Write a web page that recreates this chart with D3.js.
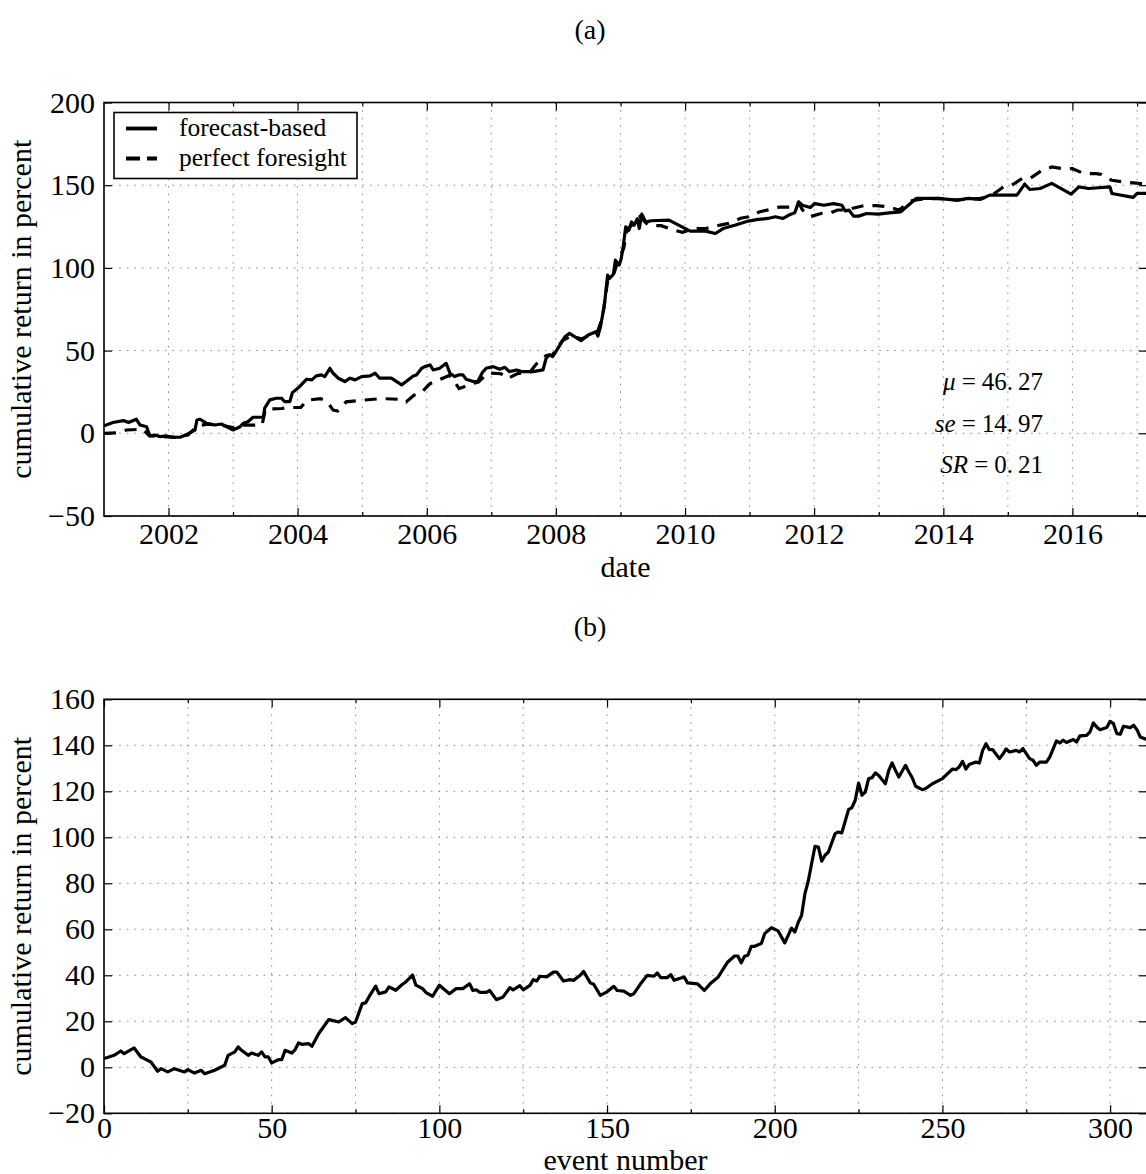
<!DOCTYPE html>
<html>
<head>
<meta charset="utf-8">
<script src="https://cdn.jsdelivr.net/npm/d3@7"></script>
<style>
  html, body { margin: 0; padding: 0; background: #fff; overflow: hidden; }
  svg { display: block; }
  text { fill: #000; }
</style>
</head>
<body>
<script>
// ---------- panel (a): cumulative return over calendar time ----------
const forecastTime = [
  2001.00, 2001.14, 2001.30, 2001.38, 2001.50, 2001.56, 2001.66, 2001.71, 2001.79, 2001.87,
  2001.97, 2002.07, 2002.18, 2002.30, 2002.41, 2002.44, 2002.49, 2002.59, 2002.72, 2002.82,
  2002.90, 2003.00, 2003.11, 2003.16, 2003.23, 2003.31, 2003.47, 2003.49, 2003.57, 2003.67,
  2003.75, 2003.80, 2003.88, 2003.92, 2004.03, 2004.14, 2004.22, 2004.29, 2004.37, 2004.42,
  2004.50, 2004.55, 2004.63, 2004.73, 2004.81, 2004.89, 2004.99, 2005.12, 2005.20, 2005.27,
  2005.45, 2005.61, 2005.68, 2005.79, 2005.84, 2005.92, 2005.97, 2006.05, 2006.10, 2006.20,
  2006.30, 2006.36, 2006.43, 2006.49, 2006.56, 2006.61, 2006.72, 2006.79, 2006.86, 2006.92,
  2007.03, 2007.13, 2007.21, 2007.28, 2007.39, 2007.47, 2007.65, 2007.80, 2007.85, 2007.90,
  2007.95, 2008.00, 2008.08, 2008.14, 2008.21, 2008.29, 2008.39, 2008.50, 2008.62, 2008.65,
  2008.69, 2008.75, 2008.80, 2008.83, 2008.89, 2008.92, 2008.98, 2009.01, 2009.04, 2009.08,
  2009.13, 2009.17, 2009.21, 2009.26, 2009.29, 2009.33, 2009.39, 2009.48, 2009.75, 2010.08,
  2010.32, 2010.47, 2010.59, 2010.77, 2010.98, 2011.13, 2011.28, 2011.40, 2011.52, 2011.63,
  2011.70, 2011.76, 2011.82, 2011.94, 2012.01, 2012.15, 2012.30, 2012.43, 2012.48, 2012.54,
  2012.61, 2012.69, 2012.81, 2012.99, 2013.16, 2013.34, 2013.58, 2013.91, 2014.21, 2014.39,
  2014.57, 2014.72, 2015.14, 2015.26, 2015.34, 2015.50, 2015.68, 2015.98, 2016.10, 2016.25,
  2016.58, 2016.61, 2016.94, 2017.00, 2017.16
];
const forecastReturn = [
  4.5, 6.5, 7.7, 6.5, 8.5, 5.0, 4.0, -1.6, -1.0, -2.0,
  -1.6, -2.4, -2.4, -0.4, 2.0, 8.0, 8.5, 6.0, 5.0, 5.6,
  4.0, 2.0, 4.0, 6.0, 7.0, 9.7, 9.7, 15.2, 20.2, 21.2,
  21.2, 19.2, 19.2, 24.6, 28.2, 32.7, 32.3, 34.7, 35.3, 34.3,
  39.3, 36.3, 33.3, 31.3, 33.3, 32.3, 34.3, 34.7, 36.3, 33.3,
  33.3, 29.3, 31.3, 34.7, 35.3, 39.3, 40.3, 41.3, 38.3, 39.3,
  42.3, 36.3, 34.3, 35.3, 35.3, 32.7, 31.3, 31.3, 36.7, 39.3,
  40.3, 38.7, 39.9, 37.3, 38.3, 37.3, 37.3, 38.3, 45.4, 47.4,
  46.4, 49.4, 54.4, 58.4, 60.4, 58.4, 56.0, 59.4, 61.4, 58.8,
  64.4, 77.5, 95.6, 93.6, 96.2, 104.7, 101.7, 105.7, 112.7, 124.8,
  122.8, 127.8, 125.8, 129.8, 123.8, 132.5, 127.8, 128.5, 128.9, 122.2,
  122.2, 120.8, 123.8, 125.8, 128.3, 129.3, 129.9, 130.9, 129.9, 132.3,
  133.3, 139.9, 137.9, 136.5, 138.9, 137.9, 138.9, 137.9, 134.5, 134.9,
  131.3, 131.3, 132.9, 132.5, 133.3, 133.9, 142.0, 142.0, 141.0, 142.0,
  141.4, 144.0, 144.0, 150.7, 147.4, 148.0, 151.1, 144.6, 149.0, 148.0,
  149.0, 145.0, 142.6, 145.0, 145.0
];
const foresightTime = [
  2001.00, 2001.20, 2001.35, 2001.60, 2001.70, 2001.90, 2002.10, 2002.30, 2002.45, 2002.60,
  2002.80, 2003.00, 2003.15, 2003.45, 2003.50, 2003.75, 2003.85, 2004.05, 2004.15, 2004.35,
  2004.45, 2004.55, 2004.62, 2004.75, 2005.00, 2005.30, 2005.60, 2005.68, 2005.80, 2005.90,
  2006.05, 2006.35, 2006.40, 2006.50, 2006.70, 2006.80, 2006.95, 2007.15, 2007.25, 2007.40,
  2007.60, 2007.70, 2007.85, 2007.95, 2008.10, 2008.25, 2008.40, 2008.55, 2008.65, 2008.72,
  2008.80, 2008.90, 2008.95, 2009.05, 2009.10, 2009.20, 2009.30, 2009.40, 2009.45, 2009.63,
  2009.81, 2009.96, 2010.14, 2010.32, 2010.56, 2010.68, 2010.86, 2011.00, 2011.16, 2011.34,
  2011.46, 2011.64, 2011.76, 2011.82, 2011.94, 2012.12, 2012.24, 2012.36, 2012.48, 2012.78,
  2012.96, 2013.13, 2013.31, 2013.52, 2013.67, 2013.91, 2014.21, 2014.33, 2014.57, 2014.72,
  2014.93, 2015.05, 2015.23, 2015.35, 2015.53, 2015.68, 2015.86, 2016.00, 2016.18, 2016.37,
  2016.45, 2016.55, 2016.61, 2016.84, 2016.99, 2017.16
];
const foresightReturn = [
  0.0, 0.3, 2.0, 2.5, -1.5, -2.0, -2.5, -1.0, 4.5, 5.5,
  5.0, 3.5, 5.0, 5.0, 14.5, 15.0, 15.5, 15.7, 20.0, 21.0,
  19.5, 14.0, 13.5, 19.0, 20.0, 21.0, 20.5, 19.0, 23.0, 24.0,
  30.0, 35.0, 33.0, 27.0, 30.0, 31.0, 36.5, 36.0, 33.0, 36.0,
  37.0, 42.0, 47.0, 47.5, 56.0, 59.0, 57.0, 60.0, 62.0, 70.0,
  92.0, 97.0, 103.0, 112.0, 123.0, 127.0, 131.0, 127.0, 125.5, 125.5,
  123.0, 121.5, 123.8, 123.8, 126.0, 127.0, 130.0, 131.0, 134.0, 135.5,
  136.8, 136.8, 139.5, 135.0, 131.0, 133.0, 133.0, 135.0, 135.0, 137.7,
  137.7, 137.0, 135.0, 140.8, 141.5, 142.0, 141.0, 141.5, 142.0, 143.0,
  148.9, 149.7, 154.3, 154.3, 159.0, 161.0, 160.0, 160.0, 157.0, 157.0,
  156.5, 154.0, 153.0, 151.7, 151.3, 150.5
];
const yearTicks = [2002, 2004, 2006, 2008, 2010, 2012, 2014, 2016];
const yearMinorTicks = [2003, 2005, 2007, 2009, 2011, 2013, 2015, 2017];
const returnTicksA = [-50, 0, 50, 100, 150, 200];
const seriesLabels = ["forecast-based", "perfect foresight"];
const statLines = [
  { sym: "μ", val: "46.27" },
  { sym: "se", val: "14.97" },
  { sym: "SR", val: "0.21" }
];

// ---------- panel (b): cumulative return over event number ----------
const eventNumber = [
  0, 3, 5, 6, 9, 11, 12, 14, 16, 17, 19, 21, 24, 25, 27, 29, 30, 33, 36, 37,
  39, 40, 41, 43, 44, 46, 47, 48, 49, 50, 52, 53, 54, 56, 57, 58, 59, 61, 62, 64,
  67, 68, 70, 72, 74, 75, 77, 78, 79, 81, 82, 84, 85, 87, 89, 90, 92, 93, 95, 96,
  98, 100, 103, 105, 107, 109, 110, 111, 112, 114, 115, 117, 119, 121, 122, 124, 125, 127, 128, 129,
  130, 132, 134, 135, 137, 139, 140, 142, 143, 145, 146, 148, 150, 152, 153, 155, 157, 158, 160, 162,
  164, 165, 166, 168, 169, 170, 173, 174, 177, 179, 181, 183, 186, 188, 189, 190, 191, 192, 193, 194,
  196, 197, 199, 201, 203, 205, 206, 207, 208, 209, 210, 212, 213, 214, 215, 216, 218, 219, 220, 222,
  223, 224, 225, 226, 227, 228, 229, 230, 231, 233, 234, 235, 236, 237, 239, 240, 241, 242, 244, 245,
  247, 250, 251, 253, 254, 255, 256, 257, 258, 260, 261, 262, 263, 264, 265, 267, 268, 269, 270, 272,
  273, 274, 276, 277, 278, 279, 281, 282, 284, 285, 286, 287, 289, 290, 291, 293, 294, 295, 296, 297,
  299, 300, 301, 302, 303, 304, 306, 307, 308, 309, 311
];
const eventReturn = [
  3.8, 5.2, 7.1, 5.9, 8.4, 4.5, 3.8, 2.3, -1.7, -0.6, -2.0, -0.6, -2.0, -1.0, -2.5, -1.3, -2.8, -1.3, 0.9, 5.2,
  6.7, 8.9, 7.4, 5.2, 6.2, 5.2, 6.7, 4.5, 4.5, 1.9, 3.3, 3.3, 7.4, 6.2, 7.7, 10.6, 10.0, 10.3, 9.1, 14.6,
  20.7, 20.4, 19.7, 21.6, 19.0, 19.7, 27.7, 28.0, 30.6, 35.3, 32.0, 32.8, 35.0, 33.5, 36.1, 37.1, 40.1, 35.7, 34.2, 32.5,
  30.9, 35.7, 32.0, 34.2, 34.2, 36.3, 33.4, 33.7, 32.6, 32.6, 33.4, 29.4, 30.6, 34.6, 33.7, 35.5, 33.7, 35.6, 38.1, 37.5,
  39.6, 39.3, 41.4, 41.4, 37.5, 38.1, 37.8, 40.0, 41.7, 36.7, 36.1, 31.3, 32.8, 35.2, 33.4, 33.1, 31.3, 32.0, 36.3, 40.0,
  39.6, 41.0, 39.0, 39.0, 40.3, 37.8, 39.3, 36.7, 36.3, 33.4, 36.7, 39.0, 45.8, 48.4, 48.4, 45.4, 48.3, 48.7, 52.6, 52.6,
  53.8, 58.1, 60.7, 59.3, 54.1, 60.5, 58.8, 63.0, 66.0, 75.5, 81.0, 96.1, 95.8, 89.6, 92.2, 93.6, 101.6, 102.3, 101.9, 112.0,
  112.9, 116.1, 123.6, 118.3, 119.7, 125.5, 125.9, 128.0, 126.9, 123.3, 129.1, 132.3, 129.1, 126.2, 131.3, 128.4, 125.9, 122.2, 120.7, 121.2,
  123.3, 125.5, 126.9, 129.7, 129.4, 130.6, 133.0, 129.7, 131.7, 132.7, 132.3, 137.8, 140.7, 138.1, 138.1, 134.2, 136.1, 138.4, 137.1, 137.8,
  137.1, 138.6, 134.2, 133.5, 131.3, 132.7, 132.7, 134.9, 141.9, 141.0, 142.2, 141.2, 142.5, 141.4, 144.1, 144.3, 145.8, 149.7, 148.0, 146.8,
  147.7, 150.4, 149.4, 145.1, 144.8, 148.3, 147.7, 148.7, 146.8, 143.6, 142.5
];
const eventTicks = [0, 50, 100, 150, 200, 250, 300];
const eventMinorTicks = [25, 75, 125, 175, 225, 275];
const returnTicksB = [-20, 0, 20, 40, 60, 80, 100, 120, 140, 160];

// ---------- drawing ----------
const FONT = '"Liberation Serif", "Times New Roman", serif';
const LINE_W = 3.2;
const DASH = "12,9";
const W = 1180, H = 1174;
const svg = d3.select("body").append("svg")
  .attr("width", W).attr("height", H)
  .style("font-family", FONT);

function decYear(y) {
  const yr = Math.floor(y);
  const a = new Date(yr, 0, 1), b = new Date(yr + 1, 0, 1);
  return new Date(a.getTime() + (y - yr) * (b - a));
}
const fmtMinus = v => (v < 0 ? "\u2212" + Math.abs(v) : String(v));

function drawGrid(g, box, x, y, opt) {
  const grid = g.append("g").attr("stroke", "#8c8c8c").attr("stroke-width", 1)
    .attr("stroke-dasharray", "1.6,6");
  opt.xGrid.forEach(v => grid.append("line")
    .attr("x1", x(v)).attr("x2", x(v)).attr("y1", box.top).attr("y2", box.bottom));
  opt.yTicks.forEach(v => grid.append("line")
    .attr("y1", y(v)).attr("y2", y(v)).attr("x1", box.left).attr("x2", box.right));
}

function ticksAndFrame(g, box, x, y, opt) {
  const bottom = d3.axisBottom(x).tickValues(opt.xTicks).tickSize(-8).tickPadding(opt.xPad)
    .tickFormat(opt.xFormat);
  const bottomMinor = d3.axisBottom(x).tickValues(opt.xMinor).tickSize(-4).tickFormat("");
  const top = d3.axisTop(x).tickValues(opt.xTicks).tickSize(-8).tickFormat("");
  const topMinor = d3.axisTop(x).tickValues(opt.xMinor).tickSize(-4).tickFormat("");
  const left = d3.axisLeft(y).tickValues(opt.yTicks).tickSize(-8).tickPadding(9)
    .tickFormat(fmtMinus);
  const right = d3.axisRight(y).tickValues(opt.yTicks).tickSize(-8).tickFormat("");

  const put = (axis, tx, ty) => {
    const a = g.append("g").attr("transform", `translate(${tx},${ty})`).call(axis);
    a.select(".domain").remove();
    a.selectAll(".tick line").attr("stroke", "#000").attr("stroke-width", 1.2);
    a.selectAll("text").style("font-family", FONT).style("font-size", "30px").attr("fill", "#000");
    return a;
  };
  put(bottom, 0, box.bottom);
  put(bottomMinor, 0, box.bottom);
  put(top, 0, box.top);
  put(topMinor, 0, box.top);
  put(left, box.left, 0);
  put(right, box.right, 0);

  g.append("rect")
    .attr("x", box.left).attr("y", box.top)
    .attr("width", box.right - box.left).attr("height", box.bottom - box.top)
    .attr("fill", "none").attr("stroke", "#000").attr("stroke-width", 1.6);
}

function labels(g, box, title, titleY, xLabel, xLabelY, yLabel) {
  g.append("text").attr("x", 590).attr("y", titleY).attr("text-anchor", "middle")
    .style("font-size", "28px").text(title);
  g.append("text").attr("x", (box.left + box.right) / 2).attr("y", xLabelY)
    .attr("text-anchor", "middle").style("font-size", "30px").text(xLabel);
  g.append("text")
    .attr("transform", `translate(31,${(box.top + box.bottom) / 2}) rotate(-90)`)
    .attr("text-anchor", "middle").style("font-size", "30px").text(yLabel);
}

// ----- panel (a) -----
const boxA = { left: 104, right: 1147, top: 102.5, bottom: 516 };
const xA = d3.scaleTime()
  .domain([new Date(2001, 0, 1), new Date(2017, 1, 26)])
  .range([boxA.left, boxA.right]);
const yA = d3.scaleLinear().domain([-50, 200]).range([boxA.bottom, boxA.top]);
const gA = svg.append("g");

const yearDates = yearTicks.map(y => new Date(y, 0, 1));
const yearMinorDates = yearMinorTicks.map(y => new Date(y, 0, 1));
drawGrid(gA, boxA, xA, yA, {
  xGrid: yearDates.concat(yearMinorDates), yTicks: returnTicksA
});

svg.append("clipPath").attr("id", "clipA").append("rect")
  .attr("x", boxA.left).attr("y", boxA.top)
  .attr("width", boxA.right - boxA.left).attr("height", boxA.bottom - boxA.top);

const lineA = d3.line().x(d => xA(d[0])).y(d => yA(d[1]));
const forecastPts = forecastTime.map((t, i) => [decYear(t), forecastReturn[i]]);
const foresightPts = foresightTime.map((t, i) => [decYear(t), foresightReturn[i]]);

const plotA = gA.append("g").attr("clip-path", "url(#clipA)");
plotA.append("path").datum(foresightPts).attr("d", lineA)
  .attr("fill", "none").attr("stroke", "#000").attr("stroke-width", LINE_W)
  .attr("stroke-dasharray", DASH);
plotA.append("path").datum(forecastPts).attr("d", lineA)
  .attr("fill", "none").attr("stroke", "#000").attr("stroke-width", LINE_W)
  .attr("stroke-linejoin", "round");

ticksAndFrame(gA, boxA, xA, yA, {
  xTicks: yearDates, xMinor: yearMinorDates, yTicks: returnTicksA,
  xFormat: d3.timeFormat("%Y"), xPad: 7
});
labels(gA, boxA, "(a)", 39, "date", 577, "cumulative return in percent");

// legend
const leg = gA.append("g");
leg.append("rect").attr("x", 114).attr("y", 112.5).attr("width", 243).attr("height", 66)
  .attr("fill", "#fff").attr("stroke", "#000").attr("stroke-width", 1.6);
seriesLabels.forEach((lab, i) => {
  const cy = 128.5 + i * 30;
  leg.append("line").attr("x1", 126).attr("x2", 157).attr("y1", cy).attr("y2", cy)
    .attr("stroke", "#000").attr("stroke-width", 3.8)
    .attr("stroke-dasharray", i === 1 ? "14,7" : null);
  leg.append("text").attr("x", 179).attr("y", cy + 7).style("font-size", "25.5px").text(lab);
});

// summary statistics
const stats = gA.append("g").style("font-size", "25px");
statLines.forEach((s, i) => {
  const t = stats.append("text").attr("x", 1043).attr("y", 390 + i * 41.5)
    .attr("text-anchor", "end");
  t.append("tspan").style("font-style", "italic").text(s.sym);
  t.append("tspan").attr("dx", 6).text("=");
  const parts = s.val.split(".");
  t.append("tspan").attr("dx", 6).text(parts[0] + ".");
  t.append("tspan").attr("dx", 5).text(parts[1]);
});

// ----- panel (b) -----
const boxB = { left: 104, right: 1147, top: 699.3, bottom: 1113.3 };
const xB = d3.scaleLinear().domain([0, 311]).range([boxB.left, boxB.right]);
const yB = d3.scaleLinear().domain([-20, 160]).range([boxB.bottom, boxB.top]);
const gB = svg.append("g");

drawGrid(gB, boxB, xB, yB, {
  xGrid: eventTicks.concat(eventMinorTicks), yTicks: returnTicksB
});
svg.append("clipPath").attr("id", "clipB").append("rect")
  .attr("x", boxB.left).attr("y", boxB.top)
  .attr("width", boxB.right - boxB.left).attr("height", boxB.bottom - boxB.top);

const lineB = d3.line().x((d, i) => xB(eventNumber[i])).y(d => yB(d));
gB.append("g").attr("clip-path", "url(#clipB)")
  .append("path").datum(eventReturn).attr("d", lineB)
  .attr("fill", "none").attr("stroke", "#000").attr("stroke-width", LINE_W)
  .attr("stroke-linejoin", "round");

ticksAndFrame(gB, boxB, xB, yB, {
  xTicks: eventTicks, xMinor: eventMinorTicks, yTicks: returnTicksB,
  xFormat: d => String(d), xPad: 3
});
labels(gB, boxB, "(b)", 636, "event number", 1169.5, "cumulative return in percent");
</script>
</body>
</html>
